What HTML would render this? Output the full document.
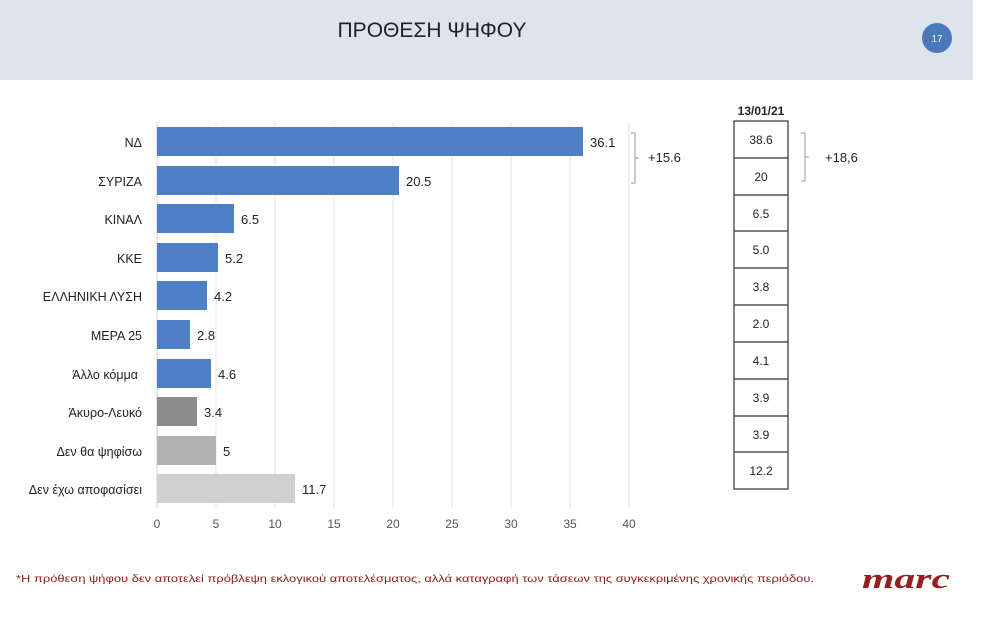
<!DOCTYPE html>
<html><head><meta charset="utf-8"><style>
body{margin:0;background:#fff;}
svg text{font-family:"Liberation Sans",sans-serif;}
</style></head><body>
<svg width="986" height="620" xmlns="http://www.w3.org/2000/svg">
<rect x="0" y="0" width="973" height="80" fill="#dde4ee"/>
<text x="432" y="37" font-size="21" text-anchor="middle" fill="#222">ΠΡΟΘΕΣΗ ΨΗΦΟΥ</text>
<circle cx="937" cy="38" r="15" fill="#4a78bd"/>
<text x="937" y="42" font-size="10" text-anchor="middle" fill="#fff">17</text>
<g stroke="#e2e2e2" stroke-width="1">
<line x1="216" y1="122" x2="216" y2="508"/><line x1="275" y1="122" x2="275" y2="508"/>
<line x1="334" y1="122" x2="334" y2="508"/><line x1="393" y1="122" x2="393" y2="508"/>
<line x1="452" y1="122" x2="452" y2="508"/><line x1="511" y1="122" x2="511" y2="508"/>
<line x1="570" y1="122" x2="570" y2="508"/><line x1="629" y1="122" x2="629" y2="508"/>
</g>
<line x1="157" y1="122" x2="157" y2="508" stroke="#d0d0d0"/>
<g font-size="13" fill="#222">
<rect x="157" y="127" width="426" height="29" fill="#4f7fc4"/>
<rect x="157" y="166" width="242" height="29" fill="#4f7fc4"/>
<rect x="157" y="204" width="77" height="29" fill="#4f7fc4"/>
<rect x="157" y="243" width="61" height="29" fill="#4f7fc4"/>
<rect x="157" y="281" width="50" height="29" fill="#4f7fc4"/>
<rect x="157" y="320" width="33" height="29" fill="#4f7fc4"/>
<rect x="157" y="359" width="54" height="29" fill="#4f7fc4"/>
<rect x="157" y="397" width="40" height="29" fill="#8c8c8c"/>
<rect x="157" y="436" width="59" height="29" fill="#b3b3b3"/>
<rect x="157" y="474" width="138" height="29" fill="#d0d0d0"/>
<text x="590" y="147">36.1</text><text x="406" y="186">20.5</text>
<text x="241" y="224">6.5</text><text x="225" y="263">5.2</text>
<text x="214" y="301">4.2</text><text x="197" y="340">2.8</text>
<text x="218" y="379">4.6</text><text x="204" y="417">3.4</text>
<text x="223" y="456">5</text><text x="302" y="494">11.7</text>
</g>
<g font-size="12.5" fill="#222" text-anchor="end">
<text x="142" y="147">ΝΔ</text><text x="142" y="186">ΣΥΡΙΖΑ</text>
<text x="142" y="224">ΚΙΝΑΛ</text><text x="142" y="263">ΚΚΕ</text>
<text x="142" y="301">ΕΛΛΗΝΙΚΗ ΛΥΣΗ</text><text x="142" y="340">ΜΕΡΑ 25</text>
<text x="138" y="379">Άλλο κόμμα</text><text x="142" y="417">Άκυρο-Λευκό</text>
<text x="142" y="456">Δεν θα ψηφίσω</text><text x="142" y="494">Δεν έχω αποφασίσει</text>
</g>
<g font-size="12" fill="#555" text-anchor="middle">
<text x="157" y="528">0</text><text x="216" y="528">5</text><text x="275" y="528">10</text>
<text x="334" y="528">15</text><text x="393" y="528">20</text><text x="452" y="528">25</text>
<text x="511" y="528">30</text><text x="570" y="528">35</text><text x="629" y="528">40</text>
</g>
<path d="M631 133 H635 V183 H631 M635 158 H639" fill="none" stroke="#999"/>
<text x="648" y="162" font-size="13" fill="#222">+15.6</text>
<text x="761" y="115" font-size="12" font-weight="bold" text-anchor="middle" fill="#222">13/01/21</text>
<g fill="none" stroke="#333" stroke-width="1.2">
<rect x="734" y="121" width="54" height="368"/>
<line x1="734" y1="158" x2="788" y2="158"/><line x1="734" y1="195" x2="788" y2="195"/>
<line x1="734" y1="231" x2="788" y2="231"/><line x1="734" y1="268" x2="788" y2="268"/>
<line x1="734" y1="305" x2="788" y2="305"/><line x1="734" y1="342" x2="788" y2="342"/>
<line x1="734" y1="379" x2="788" y2="379"/><line x1="734" y1="416" x2="788" y2="416"/>
<line x1="734" y1="452" x2="788" y2="452"/>
</g>
<g font-size="12" text-anchor="middle" fill="#222">
<text x="761" y="144">38.6</text><text x="761" y="181">20</text>
<text x="761" y="218">6.5</text><text x="761" y="254">5.0</text>
<text x="761" y="291">3.8</text><text x="761" y="328">2.0</text>
<text x="761" y="365">4.1</text><text x="761" y="402">3.9</text>
<text x="761" y="439">3.9</text><text x="761" y="475">12.2</text>
</g>
<path d="M801 133 H805 V181 H801 M805 157 H809" fill="none" stroke="#999"/>
<text x="825" y="162" font-size="13" fill="#222">+18,6</text>
<text x="16" y="582" font-size="10.5" fill="#8b1a1a" textLength="798" lengthAdjust="spacingAndGlyphs">*Η πρόθεση ψήφου δεν αποτελεί πρόβλεψη εκλογικού αποτελέσματος, αλλά καταγραφή των τάσεων της συγκεκριμένης χρονικής περιόδου.</text>
<text x="862" y="588" font-size="29" font-weight="bold" font-style="italic" fill="#9b1c1c" style="font-family:'Liberation Serif',serif" textLength="88" lengthAdjust="spacingAndGlyphs">marc</text>
</svg>
</body></html>
